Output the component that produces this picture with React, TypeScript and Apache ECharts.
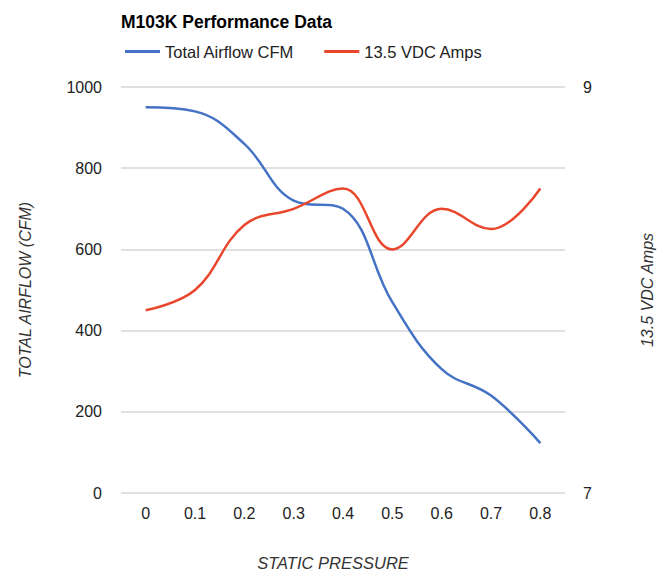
import React, { useEffect, useRef } from "react";
import * as echarts from "echarts";

const categories = ["0", "0.1", "0.2", "0.3", "0.4", "0.5", "0.6", "0.7", "0.8"];
const airflowCfm = [950, 940, 860, 720, 700, 470, 305, 240, 123];
const vdcAmps = [7.9, 8.0, 8.32, 8.4, 8.5, 8.2, 8.4, 8.3, 8.5];
const leftTicks = { min: 0, max: 1000, interval: 200 };
const rightTicks = { min: 7, max: 9, interval: 2 };

const FONT = "'Liberation Sans', Arial, sans-serif";

export default function App() {
  const ref = useRef<HTMLDivElement>(null);
  useEffect(() => {
    if (!ref.current) return;
    const chart = echarts.init(ref.current, undefined, { renderer: "svg" });
    chart.setOption({
      animation: false,
      textStyle: { fontFamily: FONT },
      title: {
        text: "M103K Performance Data",
        left: 116,
        top: 8,
        textStyle: { fontSize: 17.5, fontWeight: "bold", color: "#000", fontFamily: FONT },
      },
      legend: {
        left: 120,
        top: 38,
        icon: "rect",
        itemWidth: 35,
        itemHeight: 3,
        itemGap: 30,
        textStyle: { fontSize: 16.5, color: "#222", fontFamily: FONT },
        data: ["Total Airflow CFM", "13.5 VDC Amps"],
      },
      grid: { left: 121, right: 103, top: 87, bottom: 86, containLabel: false },
      xAxis: {
        type: "category",
        data: categories,
        boundaryGap: true,
        axisLine: { show: false },
        axisTick: { show: false },
        axisLabel: { fontSize: 16, color: "#222", margin: 12, fontFamily: FONT },
        name: "STATIC PRESSURE",
        nameLocation: "middle",
        nameGap: 61,
        nameTextStyle: { fontSize: 16.5, fontStyle: "italic", color: "#333", padding: [0, 20, 0, 0], fontFamily: FONT },
      },
      yAxis: [
        {
          type: "value",
          min: leftTicks.min,
          max: leftTicks.max,
          interval: leftTicks.interval,
          axisLine: { show: false },
          axisTick: { show: false },
          axisLabel: { fontSize: 16, color: "#222", margin: 19, fontFamily: FONT, formatter: (v: number) => String(v) },
          splitLine: { lineStyle: { color: "#d6d6d6", width: 1.5 } },
          name: "TOTAL AIRFLOW (CFM)",
          nameLocation: "middle",
          nameGap: 88,
          nameTextStyle: { fontSize: 16, fontStyle: "italic", color: "#333", fontFamily: FONT },
        },
        {
          type: "value",
          position: "right",
          min: rightTicks.min,
          max: rightTicks.max,
          interval: rightTicks.interval,
          axisLine: { show: false },
          axisTick: { show: false },
          axisLabel: { fontSize: 16, color: "#222", margin: 18, fontFamily: FONT, formatter: (v: number) => String(v) },
          splitLine: { show: false },
          name: "13.5 VDC Amps",
          nameLocation: "middle",
          nameGap: 74,
          nameTextStyle: { fontSize: 16, fontStyle: "italic", color: "#333", fontFamily: FONT },
        },
      ],
      series: [
        {
          name: "Total Airflow CFM",
          type: "line",
          yAxisIndex: 0,
          data: airflowCfm,
          smooth: 0.4,
          showSymbol: false,
          symbol: "none",
          color: "#4472c4",
          lineStyle: { color: "#4472c4", width: 2.5 },
        },
        {
          name: "13.5 VDC Amps",
          type: "line",
          yAxisIndex: 1,
          data: vdcAmps,
          smooth: 0.4,
          showSymbol: false,
          symbol: "none",
          color: "#e8472d",
          lineStyle: { color: "#e8472d", width: 2.5 },
        },
      ],
    });
    return () => chart.dispose();
  }, []);
  return (
    <div
      ref={ref}
      style={{ position: "absolute", left: 0, top: 0, width: 668, height: 579, background: "#fff" }}
    />
  );
}
